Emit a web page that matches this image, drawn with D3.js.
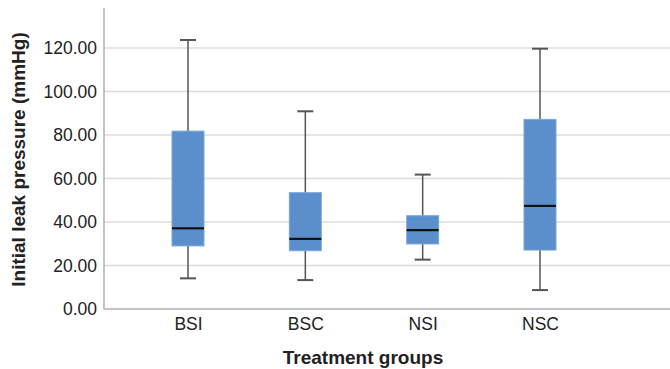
<!DOCTYPE html>
<html>
<head>
<meta charset="utf-8">
<script src="https://cdn.jsdelivr.net/npm/d3@7"></script>
<style>
  body { margin: 0; background: #fff; }
  svg { display: block; font-family: "Liberation Sans", Arial, sans-serif; }
</style>
</head>
<body>
<svg id="chart" width="670" height="369"></svg>
<script>
let groups = ['BSI', 'BSC', 'NSI', 'NSC']
let whiskerLow = [14.1, 13.3, 22.7, 8.7]
let q1 = [29.0, 26.8, 29.9, 27.1]
let medians = [37.1, 32.2, 36.3, 47.4]
let q3 = [81.8, 53.5, 42.9, 87.2]
let whiskerHigh = [123.7, 90.9, 61.8, 119.7]
let yTicks = [0, 20, 40, 60, 80, 100, 120]

let margin = { left: 104, right: 0, top: 8, bottom: 60 }
let width = 670, height = 369
let boxW = 32, capW = 16

let svg = d3.select('#chart')

let xscale = d3.scalePoint().domain(groups).range([188, 540])
let yscale = d3.scaleLinear().domain([0, 138.4]).range([height - margin.bottom, margin.top])

// gridlines
svg.append('g')
    .selectAll('line')
    .data(yTicks.filter(d => d > 0))
    .join('line')
    .attr('x1', margin.left)
    .attr('x2', width)
    .attr('y1', d => yscale(d))
    .attr('y2', d => yscale(d))
    .style('stroke', '#dcdcdc')
    .style('stroke-width', 1.3)

// y axis
let yaxis = svg.append('g').attr('class', 'yaxis')
    .attr('transform', `translate(${margin.left},0)`)
    .call(d3.axisLeft(yscale).tickValues(yTicks).tickSize(0).tickPadding(7).tickFormat(d3.format('.2f')))
yaxis.select('.domain').remove()
yaxis.selectAll('text').style('font-size', '17.5px').style('fill', '#222')

// axis frame
svg.append('path')
    .attr('d', `M${margin.left},${margin.top}V${yscale(0)}H${width}`)
    .style('fill', 'none')
    .style('stroke', '#b0b0b0')
    .style('stroke-width', 1.5)

// x axis labels
let xaxis = svg.append('g').attr('class', 'xaxis')
    .attr('transform', `translate(0,${yscale(0)})`)
    .call(d3.axisBottom(xscale).tickSize(0).tickPadding(9))
xaxis.select('.domain').remove()
xaxis.selectAll('text').style('font-size', '17.5px').style('fill', '#222')

let data = groups.map((g, i) => ({
    group: g, lo: whiskerLow[i], q1: q1[i], med: medians[i], q3: q3[i], hi: whiskerHigh[i]
}))

let boxes = svg.append('g').selectAll('g').data(data).join('g')
    .attr('transform', d => `translate(${xscale(d.group)},0)`)

boxes.append('line')
    .attr('x1', 0).attr('x2', 0)
    .attr('y1', d => yscale(d.hi)).attr('y2', d => yscale(d.lo))
    .style('stroke', '#555')
    .style('stroke-width', 1.5)

boxes.append('line')
    .attr('x1', -capW / 2).attr('x2', capW / 2)
    .attr('y1', d => yscale(d.hi)).attr('y2', d => yscale(d.hi))
    .style('stroke', '#555').style('stroke-width', 2)

boxes.append('line')
    .attr('x1', -capW / 2).attr('x2', capW / 2)
    .attr('y1', d => yscale(d.lo)).attr('y2', d => yscale(d.lo))
    .style('stroke', '#555').style('stroke-width', 2)

boxes.append('rect')
    .attr('x', -boxW / 2)
    .attr('width', boxW)
    .attr('y', d => yscale(d.q3))
    .attr('height', d => yscale(d.q1) - yscale(d.q3))
    .style('fill', '#5b8fcc')
    .style('stroke', '#7aa8dc')
    .style('stroke-width', 1)

boxes.append('line')
    .attr('x1', -boxW / 2).attr('x2', boxW / 2)
    .attr('y1', d => yscale(d.med)).attr('y2', d => yscale(d.med))
    .style('stroke', '#111').style('stroke-width', 2.2)

// titles
svg.append('text')
    .attr('transform', `translate(25,${(yscale(0) + margin.top) / 2 + 1}) rotate(-90)`)
    .attr('text-anchor', 'middle')
    .style('font-size', '19px')
    .style('font-weight', 'bold')
    .style('fill', '#222')
    .text('Initial leak pressure (mmHg)')

svg.append('text')
    .attr('x', 363)
    .attr('y', 364)
    .attr('text-anchor', 'middle')
    .style('font-size', '19px')
    .style('font-weight', 'bold')
    .style('fill', '#222')
    .text('Treatment groups')
</script>
</body>
</html>
